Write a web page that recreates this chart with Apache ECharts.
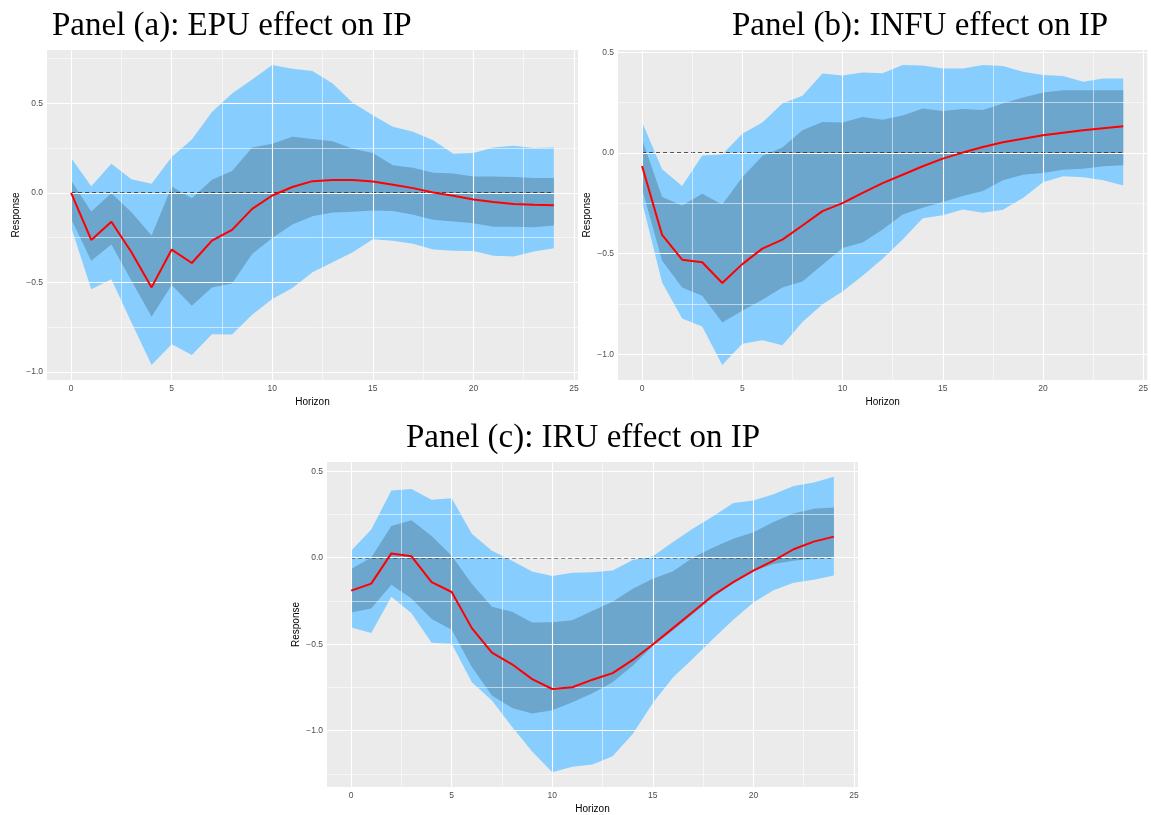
<!DOCTYPE html>
<html lang="en">
<head>
    <meta charset="UTF-8">
    <script src="https://cdn.jsdelivr.net/npm/echarts@6/dist/echarts.min.js"></script>
    <title>Panel IRF charts</title>
    <style>
        body{ margin: 0; background: #fff; }
        #main{ width: 1151px; height: 815px; }
    </style>
</head>
<body>
<div id="main"></div>
<script type="text/javascript">
    // horizon and tick labels
    var horizon = [0,1,2,3,4,5,6,7,8,9,10,11,12,13,14,15,16,17,18,19,20,21,22,23,24];
    var xTicks = [0, 5, 10, 15, 20, 25];
    var yTicks = [-1.0, -0.5, 0.0, 0.5];
    var titles = ['Panel (a): EPU effect on IP', 'Panel (b): INFU effect on IP', 'Panel (c): IRU effect on IP'];

    // panel (a) EPU
    var medA = [0.0, -0.263, -0.162, -0.332, -0.528, -0.317, -0.392, -0.267, -0.207, -0.09, -0.015, 0.032, 0.065, 0.071, 0.071, 0.063, 0.045, 0.026, 0.002, -0.017, -0.037, -0.052, -0.062, -0.067, -0.069];
    var hiOutA = [0.194, 0.037, 0.162, 0.075, 0.05, 0.2, 0.297, 0.451, 0.554, 0.632, 0.713, 0.692, 0.679, 0.61, 0.502, 0.433, 0.368, 0.34, 0.293, 0.218, 0.222, 0.252, 0.263, 0.25, 0.252];
    var hiInA = [0.069, -0.104, -0.002, -0.108, -0.239, 0.035, -0.03, 0.073, 0.121, 0.252, 0.274, 0.312, 0.3, 0.287, 0.246, 0.222, 0.153, 0.14, 0.112, 0.108, 0.091, 0.091, 0.088, 0.082, 0.082];
    var loInA = [-0.146, -0.379, -0.289, -0.491, -0.692, -0.515, -0.631, -0.528, -0.506, -0.341, -0.252, -0.177, -0.131, -0.11, -0.106, -0.099, -0.101, -0.123, -0.151, -0.16, -0.17, -0.19, -0.19, -0.192, -0.183];
    var loOutA = [-0.192, -0.539, -0.483, -0.724, -0.961, -0.845, -0.905, -0.789, -0.791, -0.681, -0.593, -0.532, -0.444, -0.388, -0.332, -0.259, -0.267, -0.285, -0.317, -0.323, -0.325, -0.351, -0.356, -0.328, -0.31];

    // panel (b) INFU
    var medB = [-0.065, -0.407, -0.53, -0.543, -0.646, -0.552, -0.475, -0.43, -0.36, -0.289, -0.249, -0.198, -0.15, -0.108, -0.066, -0.028, 0.002, 0.03, 0.053, 0.071, 0.088, 0.101, 0.113, 0.123, 0.133];
    var hiOutB = [0.154, -0.081, -0.164, -0.012, -0.007, 0.096, 0.151, 0.246, 0.284, 0.395, 0.385, 0.4, 0.396, 0.437, 0.435, 0.42, 0.419, 0.437, 0.432, 0.404, 0.387, 0.382, 0.354, 0.37, 0.37];
    var hiInB = [0.068, -0.219, -0.261, -0.203, -0.256, -0.12, -0.015, 0.027, 0.113, 0.154, 0.151, 0.179, 0.165, 0.186, 0.221, 0.208, 0.219, 0.214, 0.246, 0.276, 0.301, 0.311, 0.312, 0.312, 0.312];
    var loInB = [-0.178, -0.535, -0.668, -0.709, -0.842, -0.784, -0.729, -0.668, -0.638, -0.555, -0.472, -0.444, -0.38, -0.306, -0.272, -0.244, -0.214, -0.189, -0.136, -0.108, -0.1, -0.083, -0.078, -0.066, -0.061];
    var loOutB = [-0.244, -0.643, -0.822, -0.862, -1.053, -0.947, -0.93, -0.955, -0.839, -0.751, -0.688, -0.61, -0.525, -0.43, -0.324, -0.309, -0.281, -0.297, -0.282, -0.224, -0.145, -0.115, -0.121, -0.136, -0.161];

    // panel (c) IRU
    var medC = [-0.19, -0.15, 0.025, 0.008, -0.141, -0.198, -0.407, -0.549, -0.616, -0.702, -0.759, -0.749, -0.705, -0.667, -0.591, -0.502, -0.407, -0.312, -0.217, -0.141, -0.074, -0.017, 0.049, 0.093, 0.122];
    var hiOutC = [0.04, 0.163, 0.388, 0.397, 0.335, 0.344, 0.139, 0.04, -0.017, -0.08, -0.106, -0.087, -0.084, -0.074, -0.013, 0.008, 0.091, 0.169, 0.24, 0.316, 0.331, 0.367, 0.414, 0.435, 0.468];
    var hiInC = [-0.065, 0.002, 0.183, 0.217, 0.125, 0.011, -0.15, -0.283, -0.312, -0.375, -0.373, -0.361, -0.306, -0.255, -0.179, -0.122, -0.078, 0.002, 0.059, 0.11, 0.148, 0.207, 0.255, 0.283, 0.291];
    var loInC = [-0.316, -0.293, -0.156, -0.236, -0.354, -0.416, -0.631, -0.797, -0.869, -0.901, -0.882, -0.835, -0.783, -0.72, -0.625, -0.51, -0.42, -0.325, -0.23, -0.148, -0.078, -0.036, -0.017, -0.004, 0.0];
    var loOutC = [-0.403, -0.435, -0.226, -0.321, -0.492, -0.498, -0.72, -0.825, -0.977, -1.12, -1.24, -1.209, -1.196, -1.148, -1.019, -0.84, -0.692, -0.582, -0.468, -0.359, -0.259, -0.188, -0.144, -0.127, -0.103];

    var panels = [
        {med: medA, hiOut: hiOutA, hiIn: hiInA, loIn: loInA, loOut: loOutA},
        {med: medB, hiOut: hiOutB, hiIn: hiInB, loIn: loInB, loOut: loOutB},
        {med: medC, hiOut: hiOutC, hiIn: hiInC, loIn: loInC, loOut: loOutC}
    ];

    var grids = [
        {left: 47, top: 50, width: 531, height: 330},
        {left: 618, top: 50, width: 530, height: 330},
        {left: 327, top: 462, width: 531, height: 330}
    ];
    var titlePos = [
        {left: 52, top: 10, textAlign: 'left'},
        {left: 1108, top: 10, textAlign: 'right'},
        {left: 583, top: 422, textAlign: 'center'}
    ];

    var lightBlue = '#87CEFF', darkBlue = '#6CA6CD';

    function pairs(ys) {
        return horizon.map(function (h, i) { return [h, ys[i]]; });
    }
    function bandRows(lo, hi) {
        return horizon.map(function (h, i) { return [h, lo[i], hi[i]]; });
    }
    function fmt(v) {
        return v.toFixed(1).replace('-', '\u2212');
    }

    // one polygon per band, built from every row through the axes
    function bandRender(color) {
        return function (params, api) {
            if (params.dataIndexInside !== 0) return null;
            var n = params.dataInsideLength, top = [], bot = [];
            for (var k = 0; k < n; k++) {
                var x = api.value(0, k);
                top.push(api.coord([x, api.value(2, k)]));
                bot.push(api.coord([x, api.value(1, k)]));
            }
            return {
                type: 'polygon',
                shape: {points: top.concat(bot.reverse())},
                style: {fill: color, stroke: null}
            };
        };
    }

    var option = {
        animation: false,
        title: [], grid: [], xAxis: [], yAxis: [], series: []
    };

    panels.forEach(function (p, i) {
        var lo = Math.min.apply(null, p.loOut), hi = Math.max.apply(null, p.hiOut);
        var pad = (hi - lo) * 0.05;
        var ymin = lo - pad, ymax = hi + pad;

        option.title.push({
            text: titles[i], left: titlePos[i].left, top: titlePos[i].top, textAlign: titlePos[i].textAlign, padding: 0,
            textStyle: {fontFamily: 'Liberation Serif', fontWeight: 'normal', fontSize: 33, color: '#000'}
        });
        option.grid.push({left: grids[i].left, top: grids[i].top, width: grids[i].width, height: grids[i].height,
            show: true, backgroundColor: '#EBEBEB', borderWidth: 0});
        option.xAxis.push({
            type: 'value', gridIndex: i, min: -1.2, max: 25.2,
            axisLine: {show: false}, splitLine: {show: false},
            axisTick: {show: true, customValues: xTicks, length: 3, lineStyle: {color: '#333', width: 1}},
            axisLabel: {customValues: xTicks, fontSize: 8.5, color: '#4D4D4D', margin: 4, fontFamily: 'Liberation Sans'},
            name: 'Horizon', nameLocation: 'middle', nameGap: 17,
            nameTextStyle: {fontSize: 10, color: '#000', fontFamily: 'Liberation Sans'}
        });
        option.yAxis.push({
            type: 'value', gridIndex: i, min: ymin, max: ymax,
            axisLine: {show: false}, splitLine: {show: false},
            axisTick: {show: true, customValues: yTicks, length: 3, lineStyle: {color: '#333', width: 1}},
            axisLabel: {customValues: yTicks, fontSize: 8.5, color: '#4D4D4D', margin: 4, fontFamily: 'Liberation Sans',
                formatter: function (v) { return fmt(v); }},
            name: 'Response', nameLocation: 'middle', nameGap: 26,
            nameTextStyle: {fontSize: 10, color: '#000', fontFamily: 'Liberation Sans'}
        });

        // white grid lines (major + minor) drawn as mark lines
        var gl = [];
        [-1.25, -1, -0.75, -0.5, -0.25, 0, 0.25, 0.5, 0.75].forEach(function (v) {
            if (v > ymin && v < ymax) {
                gl.push({yAxis: v, lineStyle: {color: '#fff', width: (v * 2) % 1 === 0 ? 1.1 : 0.55, type: 'solid'}});
            }
        });
        [0, 2.5, 5, 7.5, 10, 12.5, 15, 17.5, 20, 22.5, 25].forEach(function (v) {
            gl.push({xAxis: v, lineStyle: {color: '#fff', width: v % 5 === 0 ? 1.1 : 0.55, type: 'solid'}});
        });
        option.series.push({
            type: 'line', xAxisIndex: i, yAxisIndex: i, data: [], z: 1, silent: true,
            markLine: {silent: true, symbol: ['none', 'none'], label: {show: false}, animation: false, data: gl}
        });

        option.series.push({
            type: 'custom', xAxisIndex: i, yAxisIndex: i, z: 2, silent: true,
            data: bandRows(p.loOut, p.hiOut), encode: {x: 0, y: [1, 2]},
            renderItem: bandRender(lightBlue)
        });
        option.series.push({
            type: 'custom', xAxisIndex: i, yAxisIndex: i, z: 3, silent: true,
            data: bandRows(p.loIn, p.hiIn), encode: {x: 0, y: [1, 2]},
            renderItem: bandRender(darkBlue)
        });
        // zero line
        option.series.push({
            type: 'line', xAxisIndex: i, yAxisIndex: i, symbol: 'none', silent: true, z: 4,
            data: [[horizon[0], 0], [horizon[horizon.length - 1], 0]],
            lineStyle: {color: '#222', width: 1.3, type: [4, 3]}
        });
        // median response
        option.series.push({
            type: 'line', xAxisIndex: i, yAxisIndex: i, symbol: 'none', silent: true, z: 5,
            data: pairs(p.med), lineStyle: {color: '#FF0000', width: 2}
        });
    });

    var myChart = echarts.init(document.getElementById('main'));
    myChart.setOption(option);
</script>
</body>
</html>
